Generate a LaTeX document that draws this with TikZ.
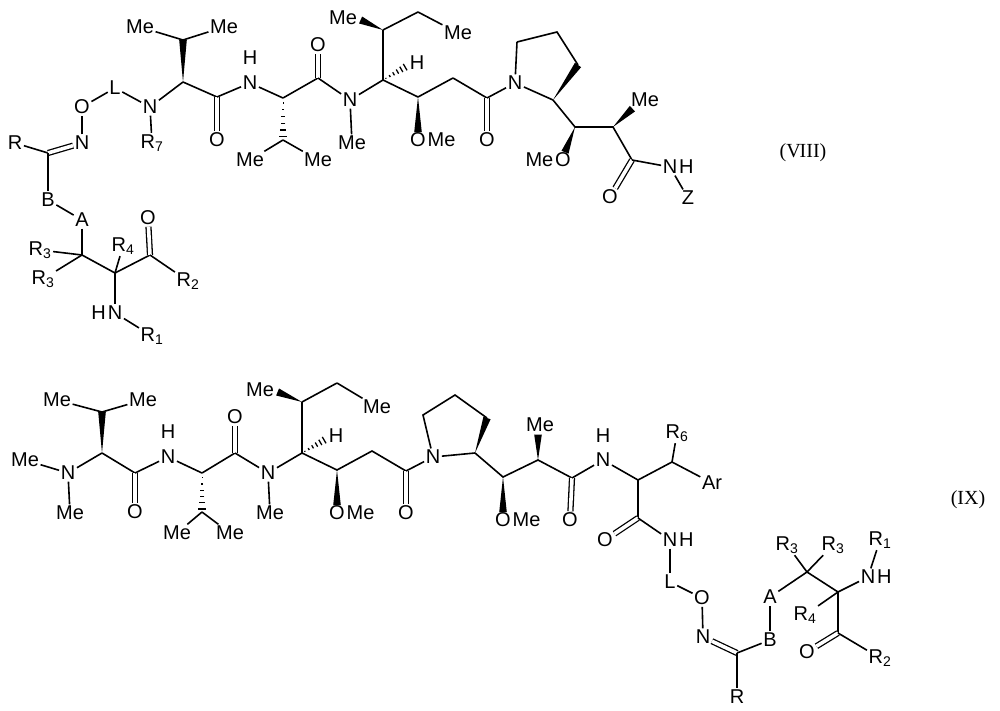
\documentclass[tikz,border=0pt]{standalone}
\usepackage{fontspec}
\setmainfont{Liberation Sans}
\newfontfamily\serifroman{Liberation Serif}
\usetikzlibrary{calc}
\tikzset{
  every node/.style={font=\fontsize{20}{20}\selectfont, inner sep=1.5pt},
  bd/.style={line width=1.6pt},
  db/.style={double, double distance=3.6pt, line width=1.3pt},
}
\newcommand\wdg[2]{\fill ($(#1)$) -- ($(#2)!3.8pt!90:(#1)$) -- ($(#2)!3.8pt!-90:(#1)$) -- cycle;}
\newcommand\hsh[2]{\foreach \t [evaluate=\t as \w using 4*\t] in {0.12,0.28,0.44,0.6,0.76,0.92}
  \draw[line width=1.3pt] ($(#1)!\t!(#2)!\w pt!90:(#2)$) -- ($(#1)!\t!(#2)!\w pt!-90:(#2)$);}
\begin{document}
\begin{tikzpicture}[x=1pt,y=-1pt]
\useasboundingbox (0,0) rectangle (1000,711);
% ================= (VIII) =================
\node (r0) at (15,143) {R};
\coordinate (cox) at (48,153);
\node (nox) at (82,143) {N};
\node (oox) at (82,107) {O};
\node (lL) at (115,88) {L};
\node (n7) at (150,107) {N};
\node (r7) at (152,143) {R\textsubscript{7}};
\coordinate (ca1) at (183,82);
\coordinate (ch1) at (183,40);
\node (me1a) at (140,27) {Me};
\node (me1b) at (224,27) {Me};
\coordinate (c1) at (217,97);
\node (o1) at (217,140) {O};
\node (nh1) at (250,83) {N};
\node at (250,58) {H};
\coordinate (ca2) at (283,98);
\coordinate (ch2) at (283,140);
\node (me2a) at (250,160) {Me};
\node (me2b) at (318,160) {Me};
\coordinate (c2) at (318,78);
\node (o2) at (318,45) {O};
\node (n3) at (350,100) {N};
\node (me3) at (352,143) {Me};
\coordinate (ca3) at (383,80);
\coordinate (ch3) at (383,30);
\node (me3a) at (343,18) {Me};
\coordinate (eth) at (418,12);
\node (me3b) at (458,33) {Me};
\node (h3) at (417,63) {H};
\coordinate (com) at (418,97);
\node (o4) at (418,140) {O};
\node[anchor=west,inner sep=0pt] at (o4.east) {Me};
\coordinate (ch2a) at (453,78);
\coordinate (c5) at (487,98);
\node (o5) at (487,140) {O};
\node (np) at (515,83) {N};
\coordinate (p2) at (553,100);
\coordinate (p3) at (578,65);
\coordinate (p4) at (557,32);
\coordinate (p5) at (517,42);
\coordinate (cho) at (575,127);
\node (o6) at (563,160) {O};
\node[anchor=east,inner sep=0pt] at (o6.west) {Me};
\coordinate (chm) at (613,127);
\node (me6) at (645,100) {Me};
\coordinate (c7) at (632,160);
\node (o7) at (610,197) {O};
\node (n8) at (670,167) {N};
\node[anchor=west,inner sep=0pt] at (n8.east) {H};
\node (z) at (688,198) {Z};
\node[font=\serifroman\fontsize{20}{20}\selectfont] at (803,153) {(V\kern-1ptIII)};
% lower-left part
\node (bb) at (48,200) {B};
\node (aa) at (82,220) {A};
\coordinate (cr3) at (82,255);
\node (r3a) at (40,250) {R\textsubscript{3}};
\node (r3b) at (43,279) {R\textsubscript{3}};
\coordinate (cr4) at (115,273);
\node (r4) at (123,246) {R\textsubscript{4}};
\coordinate (cco) at (150,255);
\node (oco) at (148,218) {O};
\node (r2) at (188,281) {R\textsubscript{2}};
\node (nhn) at (115,313) {N};
\node[anchor=east,inner sep=0pt] at (nhn.west) {H};
\node (r1) at (152,336) {R\textsubscript{1}};
\begin{scope}[bd]
\draw (r0) -- (cox); \draw[db] (cox) -- (nox);
\draw (nox) -- (oox); \draw (oox) -- (lL); \draw (lL) -- (n7); \draw (n7) -- (r7);
\draw (n7) -- (ca1); \draw (ch1) -- (me1a); \draw (ch1) -- (me1b);
\draw (ca1) -- (c1); \draw[db] (c1) -- (o1); \draw (c1) -- (nh1); \draw (nh1) -- (ca2);
\draw (ch2) -- (me2a); \draw (ch2) -- (me2b);
\draw (ca2) -- (c2); \draw[db] (c2) -- (o2); \draw (c2) -- (n3); \draw (n3) -- (me3);
\draw (n3) -- (ca3); \draw (ca3) -- (ch3); \draw (ch3) -- (eth); \draw (eth) -- (me3b);
\draw (ca3) -- (com); \draw (com) -- (ch2a); \draw (ch2a) -- (c5); \draw[db] (c5) -- (o5);
\draw (c5) -- (np); \draw (np) -- (p2); \draw (p3) -- (p4) -- (p5); \draw (p5) -- (np);
\draw (p2) -- (cho) -- (chm) -- (c7); \draw[db] (c7) -- (o7); \draw (c7) -- (n8); \draw (n8) -- (z);
\draw (cox) -- (bb); \draw (bb) -- (aa); \draw (aa) -- (cr3); \draw (cr3) -- (r3a); \draw (cr3) -- (r3b);
\draw (cr3) -- (cr4) -- (cco); \draw (cr4) -- (r4); \draw[db] (cco) -- (oco); \draw (cco) -- (r2);
\draw (cr4) -- (nhn); \draw (nhn) -- (r1);
\end{scope}
\wdg{ca1}{ch1}
\hsh{ca2}{ch2}
\wdg{ch3}{$(me3a.east)+(2,2)$}
\hsh{ca3}{$(h3.west)+(-1,3)$}
\wdg{com}{$(o4.north)+(0,1)$}
\wdg{p2}{p3}
\wdg{cho}{$(o6.north)+(2,1)$}
\wdg{chm}{$(me6.south west)+(3,0)$}
% ================= (IX) =================
\node (bme0) at (25,460) {Me};
\node (bn0) at (68,473) {N};
\node (bme0b) at (70,513) {Me};
\coordinate (bca1) at (102,453);
\coordinate (bch1) at (102,412);
\node (bme1a) at (57,400) {Me};
\node (bme1b) at (143,400) {Me};
\coordinate (bc1) at (135,473);
\node (bo1) at (135,512) {O};
\node (bn1) at (168,457) {N};
\node at (168,432) {H};
\coordinate (bca2) at (202,473);
\coordinate (bch2) at (202,512);
\node (bme2a) at (177,533) {Me};
\node (bme2b) at (230,533) {Me};
\coordinate (bc2) at (235,453);
\node (bo2) at (235,417) {O};
\node (bn3) at (268,473) {N};
\node (bme3) at (270,513) {Me};
\coordinate (bca3) at (302,453);
\coordinate (bch3) at (302,402);
\node (bme3a) at (260,390) {Me};
\coordinate (beth) at (337,383);
\node (bme3b) at (377,407) {Me};
\node (bh3) at (336,436) {H};
\coordinate (bcom) at (337,470);
\node (bo4) at (337,513) {O};
\node[anchor=west,inner sep=0pt] at (bo4.east) {Me};
\coordinate (bch2a) at (372,451);
\coordinate (bc5) at (406,471);
\node (bo5) at (406,513) {O};
\node (bnp) at (433,457) {N};
\coordinate (bp2) at (475,453);
\coordinate (bp3) at (487,418);
\coordinate (bp4) at (455,395);
\coordinate (bp5) at (423,415);
\coordinate (bcho) at (503,477);
\node (bo6) at (503,520) {O};
\node[anchor=west,inner sep=0pt] at (bo6.east) {Me};
\coordinate (bchm) at (538,460);
\node (bme6) at (540,425) {Me};
\coordinate (bc7) at (572,478);
\node (bo7) at (570,520) {O};
\node (bn8) at (603,460) {N};
\node at (603,436) {H};
\coordinate (bca8) at (638,480);
\coordinate (bch8) at (672,462);
\node (br6) at (677,433) {R\textsubscript{6}};
\node (bar) at (712,483) {Ar};
\coordinate (bc9) at (638,518);
\node (bo9) at (605,540) {O};
\node (bn9) at (670,540) {N};
\node[anchor=west,inner sep=0pt] at (bn9.east) {H};
\node (bL) at (670,582) {L};
\node (bo10) at (702,598) {O};
\node (bn10) at (703,637) {N};
\coordinate (bcx) at (737,653);
\node (bR) at (737,697) {R};
\node (bB) at (770,640) {B};
\node (bA) at (770,597) {A};
\coordinate (bcr3) at (807,572);
\node (br3a) at (787,545) {R\textsubscript{3}};
\node (br3b) at (833,545) {R\textsubscript{3}};
\coordinate (bcr4) at (838,592);
\node (br4) at (805,615) {R\textsubscript{4}};
\node (bnh) at (868,577) {N};
\node[anchor=west,inner sep=0pt] at (bnh.east) {H};
\node (br1) at (880,540) {R\textsubscript{1}};
\coordinate (bcco) at (838,633);
\node (boco) at (807,652) {O};
\node (br2) at (880,658) {R\textsubscript{2}};
\node[font=\serifroman\fontsize{20}{20}\selectfont] at (968,500) {(IX)};
\begin{scope}[bd]
\draw (bme0) -- (bn0); \draw (bn0) -- (bme0b); \draw (bn0) -- (bca1);
\draw (bch1) -- (bme1a); \draw (bch1) -- (bme1b);
\draw (bca1) -- (bc1); \draw[db] (bc1) -- (bo1); \draw (bc1) -- (bn1); \draw (bn1) -- (bca2);
\draw (bch2) -- (bme2a); \draw (bch2) -- (bme2b);
\draw (bca2) -- (bc2); \draw[db] (bc2) -- (bo2); \draw (bc2) -- (bn3); \draw (bn3) -- (bme3);
\draw (bn3) -- (bca3); \draw (bca3) -- (bch3); \draw (bch3) -- (beth); \draw (beth) -- (bme3b);
\draw (bca3) -- (bcom) -- (bch2a) -- (bc5); \draw[db] (bc5) -- (bo5); \draw (bc5) -- (bnp);
\draw (bnp) -- (bp5) -- (bp4) -- (bp3); \draw (bp2) -- (bnp);
\draw (bp2) -- (bcho) -- (bchm) -- (bc7); \draw[db] (bc7) -- (bo7); \draw (bc7) -- (bn8);
\draw (bn8) -- (bca8) -- (bch8); \draw (bch8) -- (br6); \draw (bch8) -- (bar);
\draw (bca8) -- (bc9); \draw[db] (bc9) -- (bo9); \draw (bc9) -- (bn9); \draw (bn9) -- (bL);
\draw (bL) -- (bo10); \draw (bo10) -- (bn10); \draw[db] (bn10) -- (bcx); \draw (bcx) -- (bR);
\draw (bcx) -- (bB); \draw (bB) -- (bA); \draw (bA) -- (bcr3); \draw (bcr3) -- (br3a); \draw (bcr3) -- (br3b);
\draw (bcr3) -- (bcr4); \draw (bcr4) -- (br4); \draw (bcr4) -- (bnh); \draw (bnh) -- (br1);
\draw (bcr4) -- (bcco); \draw[db] (bcco) -- (boco); \draw (bcco) -- (br2);
\end{scope}
\wdg{bca1}{bch1}
\hsh{bca2}{bch2}
\wdg{bch3}{$(bme3a.east)+(2,2)$}
\hsh{bca3}{$(bh3.west)+(-1,3)$}
\wdg{bcom}{$(bo4.north)+(0,1)$}
\wdg{bp2}{bp3}
\wdg{bcho}{$(bo6.north)+(0,1)$}
\wdg{bchm}{$(bme6.south)+(-2,1)$}
\end{tikzpicture}
\end{document}
